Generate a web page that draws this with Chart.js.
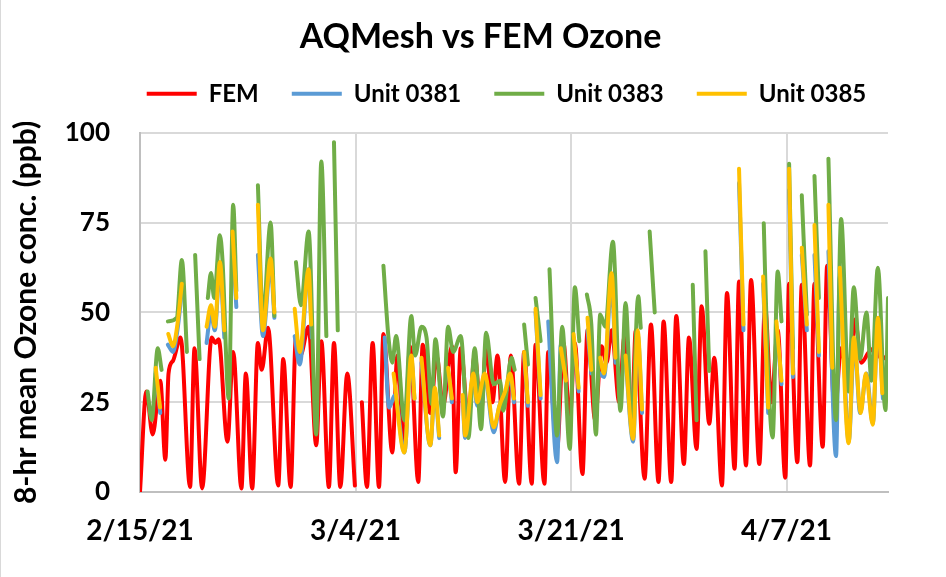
<!DOCTYPE html>
<html lang="en">
<head>
<meta charset="UTF-8">
<title>AQMesh vs FEM Ozone</title>
<style>
    html, body { margin: 0; padding: 0; background: #fff; }
    #wrap { width: 946px; height: 577px; border-left: 1px solid #d9d9d9; box-sizing: border-box; }
</style>
</head>
<body>
<div id="wrap"><canvas id="ozoneChart" width="945" height="577"></canvas></div>

<script src="https://cdn.jsdelivr.net/npm/chart.js"></script>
<script>
// x values are days after 2/15/21, y values are ppb; null = no data
const xTickValues = [0, 17, 34, 51];
const xTickLabels = ['2/15/21', '3/4/21', '3/21/21', '4/7/21'];

const femDays = [
    0, 0.5, 1.0, 1.6, 2.0, 2.25, 2.6, 3.2, 3.95, 4.3,
    4.9, 5.65, 5.95, 6.2, 6.9, 7.35, 8.0, 8.35, 8.85, 9.3,
    9.6, 10.1, 10.9, 11.3, 11.88, 12.3, 12.65, 13.3, 13.9, 14.3,
    14.9, 15.3, 15.8, 16.35, 16.95, 17.2, 17.5, 17.9, 18.35, 18.85,
    19.2, 19.9, 20.3, 20.85, 21.3, 21.95, 22.3, 22.9, 23.4, 23.9,
    24.6, 24.9, 25.3, 25.9, 26.4, 26.9, 27.3, 27.8, 28.2, 28.8,
    29.25, 29.9, 30.3, 30.9, 31.2, 31.9, 32.2, 32.9, 33.4, 33.9,
    34.3, 34.9, 35.3, 35.9, 36.4, 36.8, 37.2, 37.8, 38.2, 38.8,
    39.1, 39.8, 40.3, 40.9, 41.3, 41.9, 42.3, 42.9, 43.3, 43.9,
    44.3, 44.9, 45.3, 45.9, 46.3, 46.9, 47.25, 47.8, 48.2, 48.85,
    49.3, 49.8, 50.3, 50.9, 51.2, 51.85, 52.2, 52.85, 53.2, 53.85,
    54.2, 54.8, 55.3, 55.9, 56.4, 56.9, 57.5, 58.0, 58.5, 59
];
const femValues = [
    0, 28, 16, 31, 9, 33, 36.5, 43, 1.4, 40,
    1, 43, 41.5, 42.5, 14, 39, 1, 33, 1, 41.5,
    34, 45.7, 1.8, 37, 1.4, 43, 38, 46, 13, 42,
    1.4, 41.5, 1.4, 33, 1.8, null, 25, 1.4, 41.5, 1.4,
    44, 11, 38, 12, 40.6, 2.8, 41, 22, 38, 24,
    40.6, 5.5, 40, 20, 38, 22, 40, 25, 38, 2.8,
    38, 2.3, 39, 2.3, 41, 2.3, 39, 12, 41.5, 20,
    41.5, 5, 45, 20, 40.6, 36, 45, 25, 43, 20,
    45, 3.7, 46.6, 2.8, 47.5, 2.8, 49, 7.8, 43, 12,
    51.7, 19, 37.4, 1.8, 55.4, 6.5, 58.6, 7.4, 59, 7.8,
    52, 25, 45, 4, 58, 8.3, 57.7, 7.4, 58, 12.6,
    63, 22, 40, 30, 48, 36, 39, 40, 37, 38
];

const u0381Days = [
    1.24, 1.6, 1.9,
    2.2, 2.6, 2.95, 3.3, 4,
    5.25, 5.6, 5.9, 6.3, 6.65, 7,
    7.3, 7.6, 8.5,
    9.3, 9.7, 10.3, 10.6, 11,
    12.2, 12.6, 13.3, 13.55, 16,
    19.3, 19.65, 20.1, 20.85, 21.4, 21.65, 21.9,
    22.2, 22.9, 23.25, 23.6, 24,
    24.3, 24.6, 25,
    25.45, 25.65, 26.3, 26.6, 27.2, 27.9, 28.35, 28.8, 29.2, 29.5, 30,
    30.3, 30.6, 30.9,
    31.2, 31.6, 31.9,
    32.2, 32.9, 33.2, 33.6, 33.9,
    34.2, 34.6, 35,
    35.3, 35.6, 36,
    36.3, 36.6, 37.2, 37.5, 38,
    38.3, 38.9, 39.25, 39.6, 45,
    47.25, 47.6, 48.5,
    49.15, 49.55, 49.9,
    50.2, 50.6, 50.9,
    51.2, 51.5, 51.9,
    52.2, 52.6, 52.9,
    53.2, 53.55, 54,
    54.3, 54.9, 55.2, 55.9, 56.35, 56.8, 57.3, 57.8, 58.2, 58.6
];
const u0381Values = [
    33, 22, null,
    41, 39, 45, 56, null,
    41.5, 50, 45, 62, 43, null,
    70, 51.5, null,
    66, 43.4, 63, 48.5, null,
    43.4, 35.5, 62, 43, null,
    43, 23.5, 27, 11, 37, 26, null,
    36, 13, 28, 15, null,
    34, 25, null,
    26, 15, 32, 24, 32, 16.6, 24, 27, 32, 25, null,
    38, 24, null,
    50, 26, null,
    47.5, 8.3, 41, 31, null,
    43, 28, null,
    45, 33, null,
    33, 32, 58, 36, null,
    37, 14, 44, 22, null,
    86, 45, null,
    58, 22, null,
    46, 30, null,
    84, 32, null,
    66, 45, null,
    66, 38, null,
    67, 10, 60, 14, 42, 22, 33, 19, 47, 26
];

const u0383Days = [
    0.6, 0.92, 1.4, 1.7, 1.9,
    2.2, 2.9, 3.3, 3.7, 4,
    4.35, 4.7, 5,
    5.35, 5.6, 5.85, 6.3, 6.5, 7.0, 7.35, 7.6, 8.5,
    9.3, 9.7, 10.3, 10.6, 11,
    12.3, 12.7, 13.3, 13.9, 14.3, 14.7, 15,
    15.3, 15.6, 17,
    19.2, 19.6, 19.9, 20.2, 20.85, 21.4, 21.7, 22.2, 22.6, 23.0, 23.3, 23.9,
    24.3, 24.7, 25.3, 25.9, 26.4, 26.9, 27.3, 27.9, 28.4, 28.65, 29.3, 29.55, 30,
    30.3, 30.6, 30.9,
    31.2, 31.6, 31.9,
    32.3, 32.9, 33.3, 33.9, 34.3, 34.65, 35,
    35.25, 35.6, 35.96, 36.3, 36.7, 37.3, 37.9, 38.3, 38.8, 39.3, 39.5, 39.9,
    40.2, 40.6, 41,
    43.6, 43.9, 44.2,
    44.6, 44.9, 46,
    49.2, 49.5, 49.9, 50.3, 50.6, 50.9,
    51.2, 51.5, 51.9,
    52.2, 52.6, 52.9,
    53.2, 53.55, 54,
    54.3, 54.9, 55.3, 55.9, 56.3, 56.8, 57.3, 57.7, 58.2, 58.8, 59
];
const u0383Values = [
    28, 20, 40, 34, null,
    47.5, 48.5, 64.6, 39, null,
    66, 37, null,
    54, 61, 54, 71.5, 65, 26, 80, 56, null,
    85.4, 48.5, 75, 49, null,
    64, 52, 72.5, 16, 92, 43.4, null,
    97.4, 45, null,
    63, 43, 36, 43.4, 20, 49, 38, 46, 43, 24.5, 42.5, 21,
    46, 39, 43.4, 15, 40, 17.5, 44.3, 30, 31, 22.6, 37.4, 34, null,
    46.6, 35.5, null,
    54, 42, null,
    62, 15.7, 46, 12, 57, 42, null,
    55, 46.6, 16, 49.4, 46, 69.7, 22.6, 52.6, 19, 54.5, 45.7, null,
    72.5, 50, null,
    57.7, 20, null,
    67, 33.7, null,
    74.8, 37.4, 15.2, 61.4, 47.5, null,
    91.4, 40, null,
    82.6, 49.4, null,
    88, 54, null,
    92.8, 20, 76, 28, 57, 37, 50, 31, 62.4, 22.8, 54
];

const u0385Days = [
    1.24, 1.58, 1.9,
    2.23, 2.6, 2.95, 3.3, 4,
    5.25, 5.6, 5.9, 6.3, 6.65, 7,
    7.3, 7.6, 8.5,
    9.3, 9.7, 10.3, 10.6, 11,
    12.2, 12.6, 13.3, 13.5, 16,
    20.0, 20.85, 21.4, 21.65, 21.9,
    22.2, 22.9, 23.25, 23.6, 24,
    24.3, 24.6, 25,
    25.45, 25.65, 26.3, 26.6, 27.2, 27.9, 28.35, 28.8, 29.2, 29.5, 30,
    30.3, 30.6, 30.9,
    31.2, 31.6, 32,
    33.2, 33.6, 33.9,
    34.2, 34.6, 35,
    35.3, 35.6, 36,
    36.3, 36.6, 37.2, 37.5, 38,
    38.3, 38.9, 39.25, 39.6, 45,
    47.25, 47.6, 48.5,
    49.15, 49.55, 49.9,
    50.2, 50.6, 50.9,
    51.2, 51.5, 51.9,
    52.2, 52.6, 52.9,
    53.2, 53.55, 54,
    54.3, 54.6, 54.9,
    55.2, 55.9, 56.3, 56.85, 57.25, 57.8, 58.2, 58.55
];
const u0385Values = [
    34.6, 23.5, null,
    44, 40.6, 46.6, 58, null,
    46, 52, 46, 64, 45, null,
    72.5, 54, null,
    80, 45, 65, 50, null,
    51, 39, 62, 46.6, null,
    33, 11, 38, 26, null,
    37.4, 13, 29, 15.7, null,
    34.6, 26, null,
    27, 15.7, 33, 25, 33, 18, 24, 28, 33, 26, null,
    39, 25, null,
    51, 27, null,
    40, 31, null,
    44, 29, null,
    48.5, 34, null,
    37.4, 33, 61, 37.4, null,
    38, 14.8, 45, 23, null,
    90, 46.6, null,
    60, 23.5, null,
    47.5, 31, null,
    90, 33, null,
    68, 46.6, null,
    74.3, 39, null,
    80, 34.6, null,
    62.4, 13.6, 43, 22, 33, 18.7, 48.5, 27.5
];

function toPoints(days, values) {
    return days.map((d, i) => ({ x: d, y: values[i] }));
}

function series(label, days, values, color, order) {
    return {
        label: label,
        data: toPoints(days, values),
        borderColor: color,
        backgroundColor: color,
        borderWidth: 4,
        pointRadius: 0,
        cubicInterpolationMode: 'monotone',
        borderCapStyle: 'round',
        borderJoinStyle: 'round',
        spanGaps: false,
        fill: false,
        order: order
    };
}

// title and legend sit a bit right of the canvas centre in the original
function shiftBox(box, dx, dy) {
    box.left += dx;
    box.right += dx;
    box.top += dy;
    box.bottom += dy;
}

const layoutTweaks = {
    id: 'layoutTweaks',
    afterLayout(chart) {
        shiftBox(chart.titleBlock, 36, 0);
        shiftBox(chart.legend, 62, -17);
    }
};

Chart.defaults.font.family = "Lato, 'Noto Sans', sans-serif";
Chart.defaults.font.weight = 'bold';
Chart.defaults.color = '#000';

new Chart(document.getElementById('ozoneChart'), {
    type: 'line',
    data: {
        datasets: [
            series('FEM', femDays, femValues, '#ff0000', 4),
            series('Unit 0381', u0381Days, u0381Values, '#5b9bd5', 3),
            series('Unit 0383', u0383Days, u0383Values, '#70ad47', 2),
            series('Unit 0385', u0385Days, u0385Values, '#ffc000', 1)
        ]
    },
    options: {
        responsive: false,
        animation: false,
        layout: { padding: { left: 0, right: 58, top: 0, bottom: 0 } },
        plugins: {
            title: {
                display: true,
                text: 'AQMesh vs FEM Ozone',
                font: { size: 34, weight: 'bold' },
                padding: { top: 17, bottom: 8 }
            },
            legend: {
                labels: {
                    usePointStyle: true,
                    pointStyle: 'line',
                    pointStyleWidth: 50,
                    padding: 33,
                    font: { size: 24, weight: 'bold' },
                    sort: (a, b) => a.datasetIndex - b.datasetIndex
                }
            },
            tooltip: { enabled: false }
        },
        scales: {
            x: {
                type: 'linear',
                min: 0,
                max: 59,
                afterBuildTicks: scale => {
                    scale.ticks = xTickValues.map(v => ({ value: v }));
                },
                ticks: {
                    callback: (value, index) => xTickLabels[index],
                    font: { size: 28, weight: 'bold' },
                    padding: 22,
                    maxRotation: 0,
                    autoSkip: false
                },
                grid: { color: '#d9d9d9', lineWidth: 2, drawTicks: false },
                border: { color: '#bfbfbf', width: 2 },
                afterFit: scale => { scale.height = 85; }
            },
            y: {
                min: 0,
                max: 100,
                ticks: {
                    stepSize: 25,
                    font: { size: 26, weight: 'bold' },
                    padding: 30
                },
                grid: { color: '#d9d9d9', lineWidth: 2, drawTicks: false },
                border: { color: '#bfbfbf', width: 2 },
                title: {
                    display: true,
                    text: '8-hr mean Ozone conc. (ppb)',
                    font: { size: 30, weight: 'bold' },
                    padding: { top: 7, bottom: 0 }
                },
                afterFit: scale => { scale.width = 139; }
            }
        }
    },
    plugins: [layoutTweaks]
});
</script>
</body>
</html>
